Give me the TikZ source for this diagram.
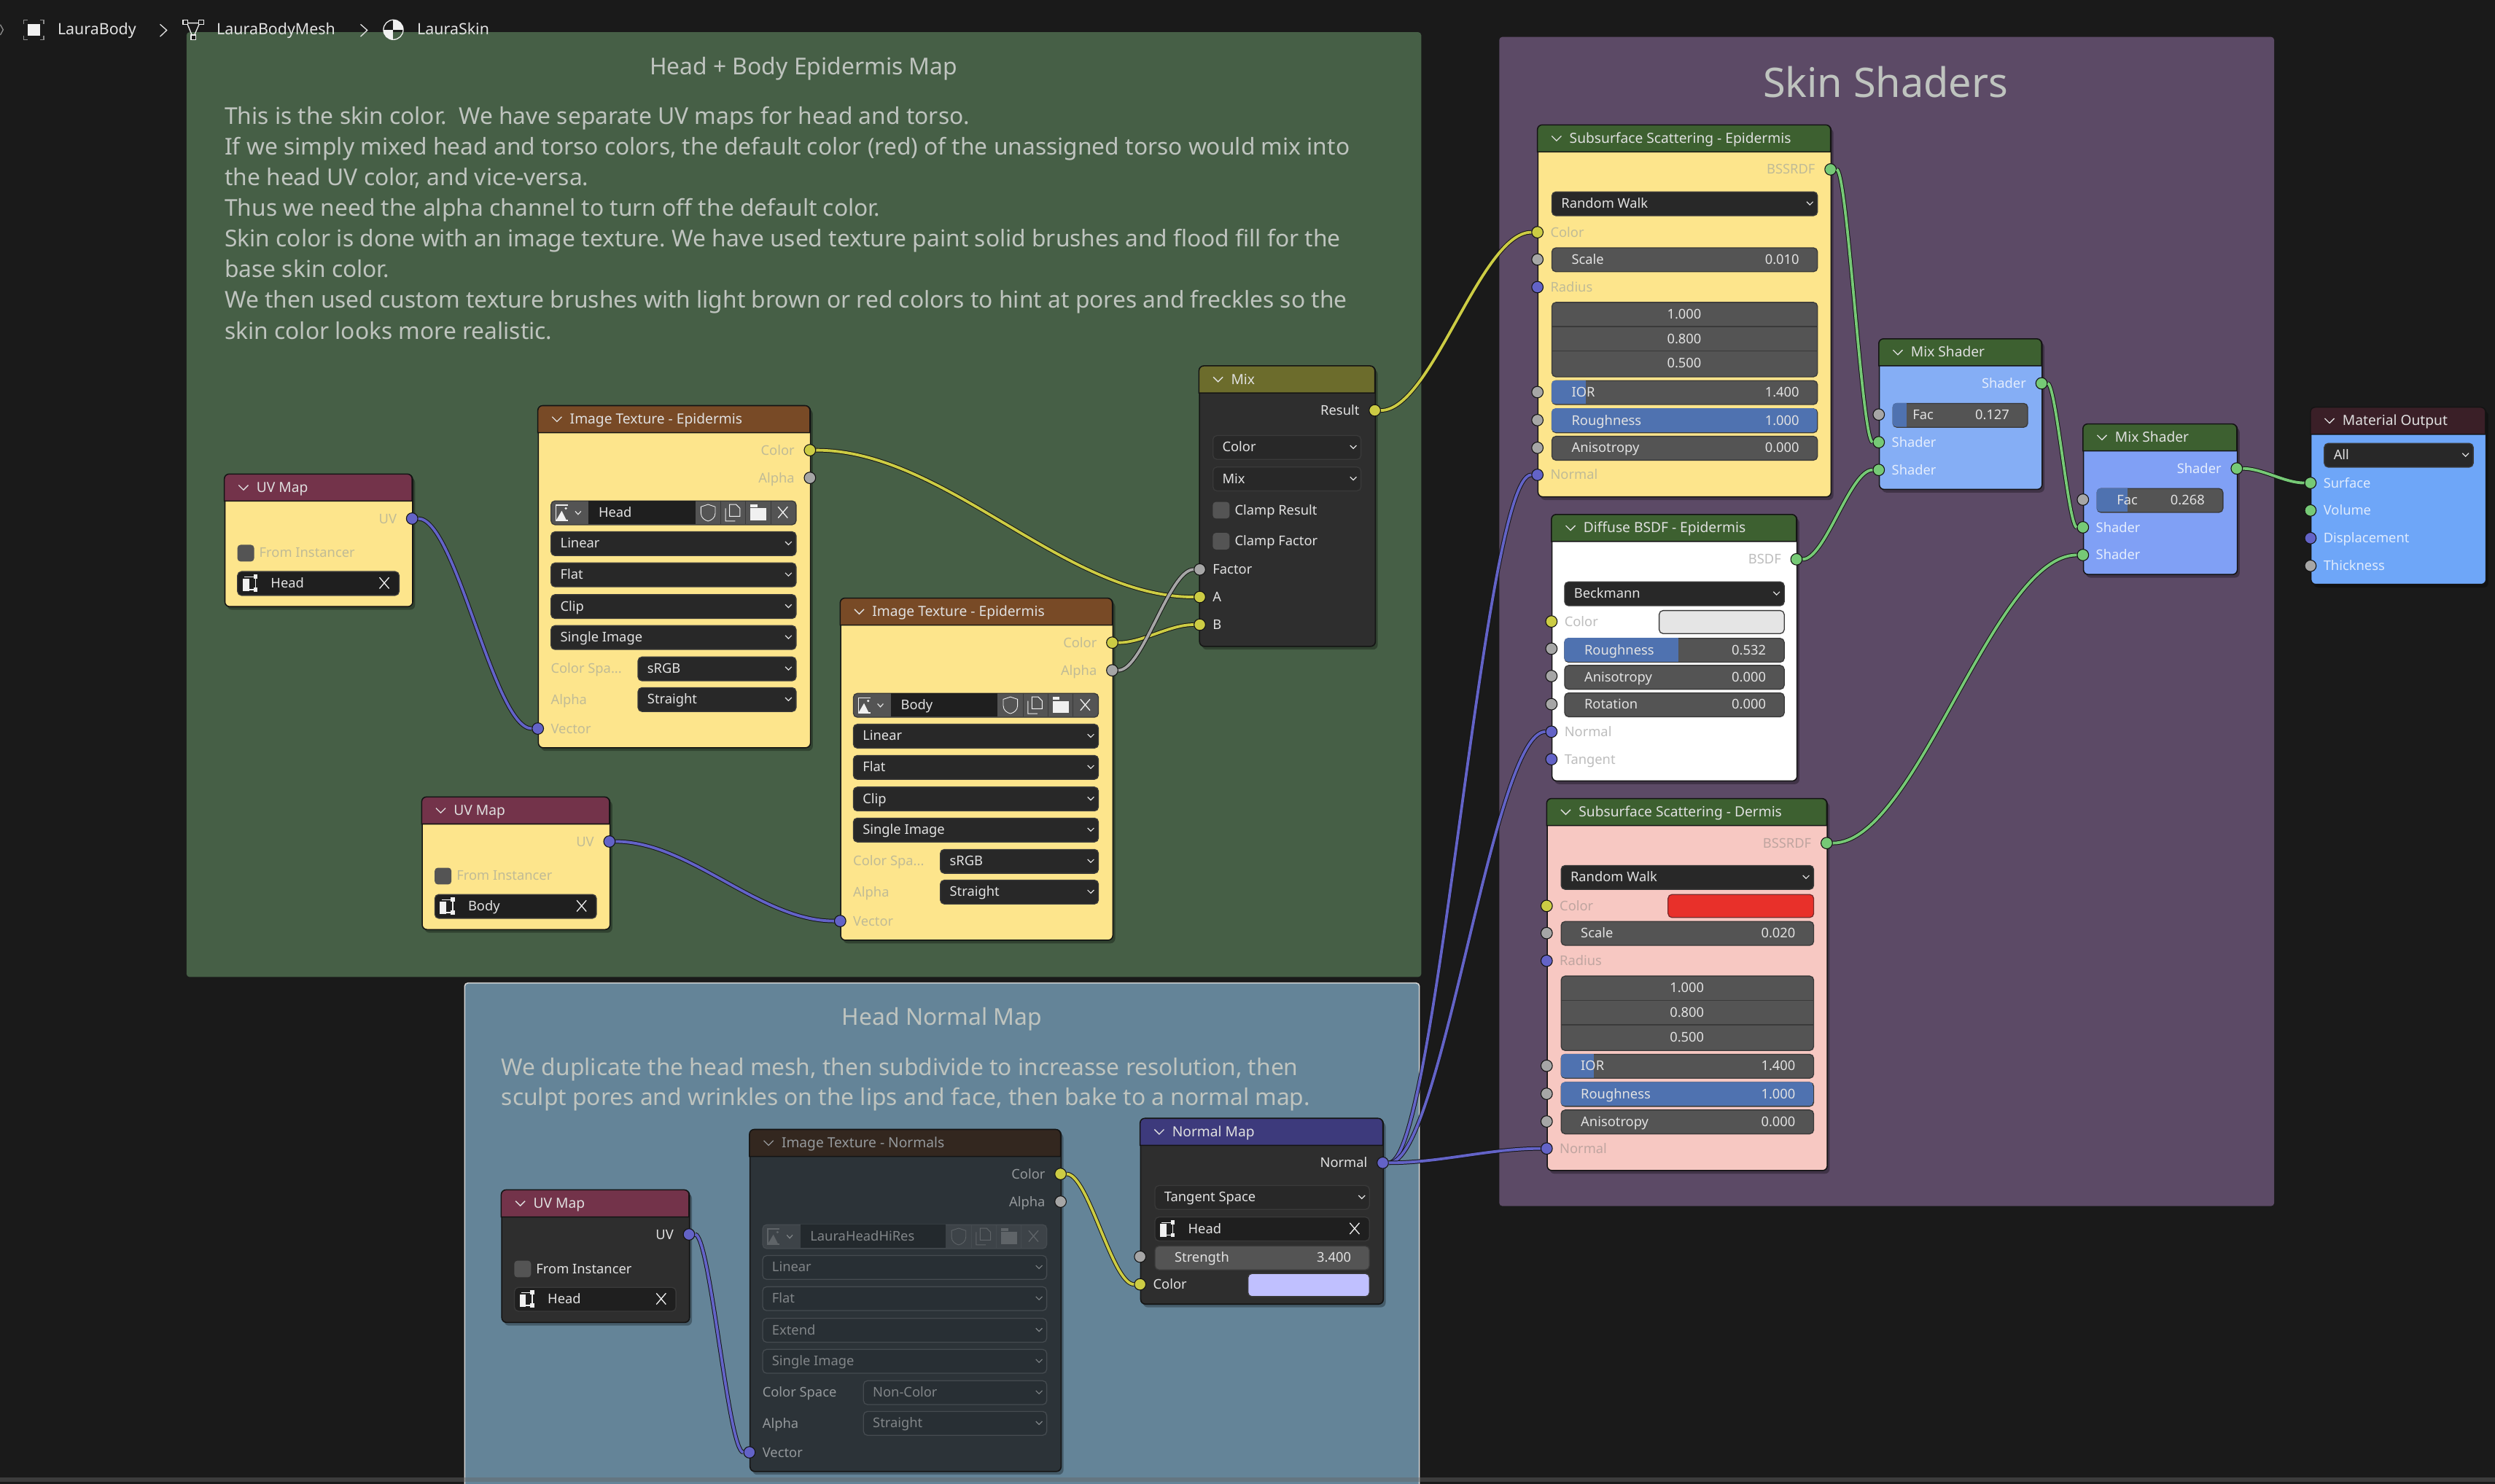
\documentclass[tikz,border=0pt]{standalone}
\usepackage{fontspec}
\setmainfont{Noto Sans}
\usetikzlibrary{positioning,calc,shadows}
\frenchspacing

\definecolor{editorbg}{HTML}{1A1A1A}
\definecolor{framegreen}{HTML}{465F46}
\definecolor{framepurple}{HTML}{5C4A66}
\definecolor{frameblue}{HTML}{648498}
\definecolor{notegrey}{HTML}{BFC4BF}
\definecolor{nodeedge}{HTML}{141414}
\definecolor{hduv}{HTML}{73334A}
\definecolor{hdtex}{HTML}{784A26}
\definecolor{hdtexmute}{HTML}{33271F}
\definecolor{hdshader}{HTML}{3D6030}
\definecolor{hdout}{HTML}{3A1F27}
\definecolor{hdvec}{HTML}{3D3A7C}
\definecolor{hdmix}{HTML}{6C6C2C}
\definecolor{bodyyellow}{HTML}{FDE58C}
\definecolor{bodypink}{HTML}{F7C8C2}
\definecolor{bodydark}{HTML}{2E2E2E}
\definecolor{bodymute}{HTML}{2C3338}
\definecolor{bodymixa}{HTML}{85AEF5}
\definecolor{bodymixb}{HTML}{80A0F5}
\definecolor{bodyout}{HTML}{6EA6F8}
\definecolor{sockyellow}{HTML}{CCCC44}
\definecolor{sockgrey}{HTML}{A6A6A6}
\definecolor{sockblue}{HTML}{6363C7}
\definecolor{sockgreen}{HTML}{76C976}
\definecolor{barblue}{HTML}{4F72B0}
\definecolor{swatchred}{HTML}{E8302A}
\definecolor{swatchrededge}{HTML}{7A2A2A}
\definecolor{swatchlilac}{HTML}{C0C0FF}
\definecolor{lblyellow}{HTML}{C0BB96}
\definecolor{lblwhite}{HTML}{BDBDBD}
\definecolor{lblpink}{HTML}{BFA5A0}
\colorlet{lblc}{white}
\colorlet{titlec}{black!12}
\definecolor{wgdark}{HTML}{282828}
\definecolor{wgfield}{HTML}{545454}
\definecolor{wgedge}{HTML}{3A3A3A}
\definecolor{wgtext}{HTML}{E2E2E2}
\definecolor{wgicon}{HTML}{F0F0F0}

\tikzset{
  panel/.style={anchor=north west,inner sep=0pt,rounded corners=2pt},
  nodebody/.style={anchor=north west,inner sep=0pt,draw=nodeedge,line width=.7pt,rounded corners=3pt,
    drop shadow={shadow xshift=1.5pt,shadow yshift=-2pt,opacity=.3,fill=black}},
  nodetitle/.style={anchor=west,inner sep=0pt,text=titlec,font=\fontsize{8.8}{10}\selectfont,text height=7pt,text depth=1pt},
  chev/.style={draw=titlec,line width=.6pt},
  sock/.style={circle,draw=nodeedge,line width=.5pt,inner sep=0pt,minimum size=7.2pt},
  socklabel/.style={inner sep=0pt,text=lblc,font=\fontsize{8.4}{10}\selectfont,text height=7pt,text depth=1pt},
  wgbox/.style={anchor=north west,inner sep=0pt,draw=wgedge,line width=.6pt,rounded corners=2.5pt,minimum height=15pt},
  wgtxt/.style={inner sep=0pt,text=wgtext,font=\fontsize{8.4}{10}\selectfont,text height=7pt,text depth=1pt},
  wchev/.style={draw=wgtext,line width=.55pt},
  iconline/.style={draw=wgicon,line width=.6pt},
  notetext/.style={anchor=west,inner sep=0pt,text=notegrey,font=\fontsize{14.55}{16}\selectfont,text height=13pt,text depth=3pt},
  notetitle/.style={inner sep=0pt,text=notegrey,font=\fontsize{14.6}{16}\selectfont,text height=13pt,text depth=3pt},
  crumb/.style={anchor=west,inner sep=0pt,text=wgtext,font=\fontsize{9.8}{11}\selectfont,text height=7.5pt,text depth=2pt},
  noodle/.style={draw=nodeedge,line width=.45pt,double=#1,double distance=1.75pt},
}

% node frame: name, x0, x1, y0, y1, header, body, title
\newcommand{\bnode}[8]{%
  \node[nodebody,fill=#7,minimum width=((#3)-(#2))*1pt,minimum height=((#5)-(#4))*1pt] (#1) at (#2,#4) {};
  \filldraw[fill=#6,draw=nodeedge,line width=.7pt] (#2,#4+17) [rounded corners=3pt] -- (#2,#4) -- (#3,#4) [sharp corners] -- (#3,#4+17) -- cycle;
  \draw[chev] (#2+9,#4+7) -- (#2+12,#4+10) -- (#2+15,#4+7);
  \node[nodetitle] (#1title) at (#2+20,#4+8.5) {#8};
}
% sockets
\newcommand{\sockbare}[4]{\node[sock,fill=#4] (#1) at (#2,#3) {};}
\newcommand{\sockout}[5]{\sockbare{#1}{#2}{#3}{#4}\node[socklabel,anchor=east] (#1txt) at (#2-9.5,#3) {#5};}
\newcommand{\sockin}[5]{\sockbare{#1}{#2}{#3}{#4}\node[socklabel,anchor=west] (#1txt) at (#2+8,#3) {#5};}
% widgets
\newcommand{\ddrop}[5]{%
  \node[wgbox,fill=wgdark,minimum width=((#3)-(#2))*1pt] (#1) at (#2,#4) {};
  \node[wgtxt,anchor=west] (#1txt) at (#2+6,#4+7.5) {#5};
  \draw[wchev] (#3-6.5,#4+6.5) -- (#3-4.5,#4+8.5) -- (#3-2.5,#4+6.5);
}
\newcommand{\vfield}[7]{%
  \node[wgbox,fill=wgfield,minimum width=((#3)-(#2))*1pt] (#1) at (#2,#4) {};
  \pgfmathtruncatemacro{\hasbar}{(#5)>(#2)}
  \ifnum\hasbar=1
    \begin{scope}
      \clip[rounded corners=2.5pt] (#2,#4) rectangle (#3,#4+15);
      \fill[barblue] (#2,#4) rectangle (#5,#4+15);
    \end{scope}
  \fi
  \node[wgtxt,anchor=west] (#1txt) at (#2+12.5,#4+7.5) {#6};
  \node[wgtxt,anchor=east] (#1val) at (#3-11,#4+7.5) {#7};
}
\newcommand{\swatch}[6]{\node[wgbox,fill=#6,draw=#5,minimum width=((#3)-(#2))*1pt,minimum height=14.5pt] (#1) at (#2,#4) {};}
\newcommand{\checkrow}[4]{%
  \node[anchor=north west,inner sep=0pt,fill=wgfield,rounded corners=2pt,minimum width=10.5pt,minimum height=10.5pt] (#1) at (#2,#3-5.2) {};
  \node[socklabel,anchor=west] (#1txt) at (#2+13.8,#3) {#4};
}
% small icons
\newcommand{\iconuv}[2]{%
  \fill[wgicon] (#1,#2+2.5) rectangle (#1+4,#2+10.5);
  \draw[iconline] (#1+1,#2+1.5) -- (#1+8,#2+1.5) -- (#1+8,#2+9.5) -- (#1+4,#2+9.5);
  \fill[wgicon] (#1+6.8,#2) rectangle (#1+9.2,#2+2.6);
  \fill[wgicon] (#1+6.8,#2+8.3) rectangle (#1+9.2,#2+10.8);
}
\newcommand{\iconx}[2]{\draw[iconline] (#1,#2) -- (#1+6,#2+7) (#1+6,#2) -- (#1,#2+7);}
\newcommand{\uvbar}[5]{%
  \node[wgbox,fill=black!88,minimum width=((#3)-(#2))*1pt] (#1) at (#2,#4) {};
  \iconuv{#2+3.5}{#4+2.2}
  \node[wgtxt,anchor=west] (#1txt) at (#2+21,#4+7.5) {#5};
  \iconx{#3-12}{#4+4}
}
\newcommand{\imgrow}[5]{%
  \node[wgbox,fill=wgfield,minimum width=((#3)-(#2))*1pt] (#1) at (#2,#4) {};
  \fill[imgdark] (#2+24,#4) rectangle (#3-63,#4+15);
  \draw[wgedge,line width=.4pt] (#3-47,#4) -- (#3-47,#4+15) (#3-31.4,#4) -- (#3-31.4,#4+15) (#3-15.6,#4) -- (#3-15.6,#4+15);
  \draw[iconline] (#2+11,#4+3) -- (#2+3.5,#4+3) -- (#2+3.5,#4+12.5) -- (#2+11,#4+12.5);
  \fill[wgicon] (#2+3.5,#4+12.5) -- (#2+7,#4+6.5) -- (#2+10,#4+12.5) -- cycle;
  \fill[wgicon] (#2+9.6,#4+5) circle (.8);
  \draw[wchev] (#2+15.5,#4+6.8) -- (#2+17.3,#4+8.8) -- (#2+19.1,#4+6.8);
  \node[wgtxt,anchor=west] (#1txt) at (#2+30,#4+7.5) {#5};
  \draw[iconline,line width=.4pt] (#3-59.5,#4+4) -- (#3-55,#4+2.5) -- (#3-50.5,#4+4) -- (#3-50.5,#4+8) .. controls (#3-50.5,#4+11) and (#3-53,#4+12.5) .. (#3-55,#4+13) .. controls (#3-57,#4+12.5) and (#3-59.5,#4+11) .. (#3-59.5,#4+8) -- cycle;
  \draw[iconline,line width=.45pt] (#3-44,#4+5) -- (#3-44,#4+13) -- (#3-38,#4+13) (#3-41.5,#4+2.5) -- (#3-37.5,#4+2.5) -- (#3-35,#4+5) -- (#3-35,#4+10) -- (#3-41.5,#4+10) -- cycle;
  \fill[wgicon] (#3-28.5,#4+5) rectangle (#3-18.5,#4+12.5);
  \fill[wgicon] (#3-28.5,#4+2.5) rectangle (#3-24,#4+4.2);
  \iconx{#3-11}{#4+4}
}
% whole nodes
\newcommand{\uvnode}[5]{% name, x0, y0, body, mesh
  \bnode{#1}{#2}{#2+118}{#3}{#3+83}{hduv}{#4}{UV Map}
  \sockout{#1uv}{#2+118}{#3+28}{sockblue}{UV}
  \checkrow{#1chk}{#2+8}{#3+49.5}{From Instancer}
  \uvbar{#1bar}{#2+8}{#2+109.5}{#3+61}{#5}
}
\newcommand{\texnode}[9]{% name, x0, x1, y0, body, title, image, extension, space label
  \bnode{#1}{#2}{#3}{#4}{#4+214.7}{\texhead}{#5}{#6}
  \sockout{#1color}{#3}{#4+28}{sockyellow}{Color}
  \sockout{#1alpha}{#3}{#4+45.4}{sockgrey}{Alpha}
  \pgfmathsetmacro{\wa}{#2+8}
  \pgfmathsetmacro{\wb}{#3-9}
  \pgfmathsetmacro{\wc}{\wa+.355*(\wb-\wa)}
  \imgrow{#1img}{\wa}{\wb}{#4+59.6}{#7}
  \foreach \rowtxt/\rowdy [count=\k] in {Linear/79,Flat/98.6,#8/118.5,Single Image/138}
    {\ddrop{#1row\k}{\wa}{\wb}{#4+\rowdy}{\rowtxt}}
  \node[socklabel,anchor=west] (#1spacetxt) at (\wa,#4+165.2) {#9};
  \node[socklabel,anchor=west] (#1alphatxt) at (\wa,#4+184.7) {Alpha};
  \ddrop{#1space}{\wc}{\wb}{#4+157.7}{\texspace}
  \ddrop{#1mode}{\wc}{\wb}{#4+177}{Straight}
  \sockin{#1vector}{#2}{#4+203}{sockblue}{Vector}
}
\newcommand{\sssnode}[7]{% name, x0, x1, y0, body, title, scale
  \bnode{#1}{#2}{#3}{#4}{#4+233.5}{hdshader}{#5}{#6}
  \pgfmathsetmacro{\wa}{#2+8.8}
  \pgfmathsetmacro{\wb}{#3-8.5}
  \pgfmathsetmacro{\wc}{\wa+.13*(\wb-\wa)}
  \sockout{#1out}{#3}{#4+28}{sockgreen}{BSSRDF}
  \ddrop{#1method}{\wa}{\wb}{#4+41.8}{Random Walk}
  \sockin{#1color}{#2}{#4+67.5}{sockyellow}{Color}
  \sockbare{#1scale}{#2}{#4+84.6}{sockgrey}
  \vfield{#1scalew}{\wa}{\wb}{#4+77}{\wa}{Scale}{#7}
  \sockin{#1radius}{#2}{#4+102}{sockblue}{Radius}
  \node[wgbox,fill=wgfield,minimum width=(\wb-\wa)*1pt,minimum height=46.8pt] (#1group) at (\wa,#4+111.3) {};
  \draw[wgedge,line width=.7pt] (\wa,#4+126.8) -- (\wb,#4+126.8) (\wa,#4+142.2) -- (\wb,#4+142.2);
  \foreach \val/\dy [count=\k] in {1.000/119,0.800/134.4,0.500/149.8}
    {\node[wgtxt] (#1radius\k) at ({(\wa+\wb)/2},#4+\dy) {\val};}
  \sockbare{#1ior}{#2}{#4+168}{sockgrey}
  \vfield{#1iorw}{\wa}{\wb}{#4+160.5}{\wc}{IOR}{1.400}
  \sockbare{#1rough}{#2}{#4+185.6}{sockgrey}
  \vfield{#1roughw}{\wa}{\wb}{#4+178.2}{\wb}{Roughness}{1.000}
  \sockbare{#1aniso}{#2}{#4+203}{sockgrey}
  \vfield{#1anisow}{\wa}{\wb}{#4+195.5}{\wa}{Anisotropy}{0.000}
  \sockin{#1normal}{#2}{#4+220}{sockblue}{Normal}
}
\newcommand{\mixshader}[6]{% name, x0, x1, y0, body, fac + fill
  \bnode{#1}{#2}{#3}{#4}{#4+94.3}{hdshader}{#5}{Mix Shader}
  \sockout{#1out}{#3}{#4+28}{sockgreen}{Shader}
  \sockbare{#1facin}{#2}{#4+47.6}{sockgrey}
  \vfield{#1fac}{#2+8.6}{#3-9}{#4+40.3}{#6}{Fac}{\facval}
  \sockin{#1a}{#2}{#4+65}{sockgreen}{Shader}
  \sockin{#1b}{#2}{#4+82.4}{sockgreen}{Shader}
}
\newcommand{\noodlelink}[3]{%
  \coordinate (ctla) at ($(#2)!.35!(#3)$);
  \coordinate (ctlb) at ($(#2)!.65!(#3)$);
  \draw[noodle=#1] (#2) .. controls (ctla |- #2) and (ctlb |- #3) .. (#3);
}

\begin{document}
\begin{tikzpicture}[x=1pt,y=-1pt]
  \fill[editorbg] (0,0) rectangle (1568,932.9);
  \useasboundingbox (0,0) rectangle (1568,932.9);
  \colorlet{imgdark}{black!88}

  % frames
  \node[panel,fill=framegreen,minimum width=776pt,minimum height=594pt] (greenframe) at (117,20) {};
  \node[panel,fill=framepurple,minimum width=487pt,minimum height=735pt] (purpleframe) at (942,23) {};
  \fill[frameblue,rounded corners=2pt] (292,618) rectangle (892,950);
  \draw[white!85!black,line width=.7pt,rounded corners=2pt] (292,950) -- (292,618) -- (892,618) -- (892,950);

  \node[notetitle] (greentitle) at (505,42) {Head + Body Epidermis Map};
  \foreach \txt [count=\i] in {{This is the skin color.\ \ We have separate UV maps for head and torso.},
    {If we simply mixed head and torso colors, the default color (red) of the unassigned torso would mix into},
    {the head UV color, and vice-versa.},
    {Thus we need the alpha channel to turn off the default color.},
    {Skin color is done with an image texture. We have used texture paint solid brushes and flood fill for the},
    {base skin color.},
    {We then used custom texture brushes with light brown or red colors to hint at pores and freckles so the},
    {skin color looks more realistic.}}
    \node[notetext] (greenline\i) at (141,{73+19.3*(\i-1)}) {\txt};
  \node[inner sep=0pt,text=notegrey,font=\fontsize{25.6}{30}\selectfont] (purpletitle) at (1185,51.5) {Skin Shaders};
  \node[notetitle] (bluetitle) at (592,639.5) {Head Normal Map};
  \node[notetext] (blueline1) at (315,671) {We duplicate the head mesh, then subdivide to increasse resolution, then};
  \node[notetext] (blueline2) at (315,690) {sculpt pores and wrinkles on the lips and face, then bake to a normal map.};

  % head + body epidermis
  \colorlet{lblc}{lblyellow}
  \uvnode{uvhead}{141}{298}{bodyyellow}{Head}
  \uvnode{uvbody}{265}{501}{bodyyellow}{Body}
  \def\texhead{hdtex}\def\texspace{sRGB}
  \texnode{texhead}{338}{509}{255}{bodyyellow}{Image Texture - Epidermis}{Head}{Clip}{Color Spa...}
  \texnode{texbody}{528}{699}{376}{bodyyellow}{Image Texture - Epidermis}{Body}{Clip}{Color Spa...}

  % mix
  \colorlet{lblc}{wgtext}
  \bnode{mix}{753.5}{864}{230}{406}{hdmix}{bodydark}{Mix}
  \sockout{mixout}{864}{258}{sockyellow}{Result}
  \ddrop{mixtype}{762}{855}{273.5}{Color}
  \ddrop{mixmode}{762}{855}{293.3}{Mix}
  \checkrow{mixclampr}{762}{320.5}{Clamp Result}
  \checkrow{mixclampf}{762}{340}{Clamp Factor}
  \sockin{mixfac}{754}{358}{sockgrey}{Factor}
  \sockin{mixa}{754}{375.3}{sockyellow}{A}
  \sockin{mixb}{754}{392.7}{sockyellow}{B}

  % head normal map
  \uvnode{uvnormal}{315}{748}{bodydark}{Head}
  \begin{scope}
    \colorlet{wgdark}{bodymute!92!black}
    \colorlet{wgfield}{bodymute!92!white}
    \colorlet{wgedge}{bodymute!88!white}
    \colorlet{wgtext}{white!40!bodymute}
    \colorlet{wgicon}{white!24!bodymute}
    \colorlet{imgdark}{bodymute!80!black}
    \colorlet{lblc}{white!50!bodymute}
    \colorlet{titlec}{white!50!bodymute}
    \def\texhead{hdtexmute}\def\texspace{Non-Color}
    \texnode{texnormal}{471}{666.5}{710}{bodymute}{Image Texture - Normals}{LauraHeadHiRes}{Extend}{Color Space}
  \end{scope}
  \bnode{normalmap}{716.5}{869}{703}{819.5}{hdvec}{bodydark}{Normal Map}
  \sockout{nmout}{869}{731}{sockblue}{Normal}
  \ddrop{nmspace}{725.5}{860.3}{745}{Tangent Space}
  \uvbar{nmuv}{725.5}{860.3}{764.8}{Head}
  \sockbare{nmstrength}{716.5}{790}{sockgrey}
  \vfield{nmstrengthw}{725.5}{860.3}{783}{725.5}{Strength}{3.400}
  \sockin{nmcolor}{716.5}{807.4}{sockyellow}{Color}
  \swatch{nmswatch}{784}{860.3}{800.3}{wgedge}{swatchlilac}

  % skin shaders
  \colorlet{lblc}{lblyellow}
  \sssnode{sssepi}{966.2}{1150.4}{78.5}{bodyyellow}{Subsurface Scattering - Epidermis}{0.010}
  \colorlet{lblc}{lblwhite}
  \bnode{diffuse}{975}{1129}{323.4}{490.6}{hdshader}{white}{Diffuse BSDF - Epidermis}
  \sockout{diffout}{1129}{351.6}{sockgreen}{BSDF}
  \ddrop{diffdist}{983}{1121}{365.5}{Beckmann}
  \sockin{diffcolor}{975}{390.7}{sockyellow}{Color}
  \swatch{diffswatch}{1042.4}{1121}{383.5}{wgedge}{black!10}
  \sockbare{diffrough}{975}{407.8}{sockgrey}
  \vfield{diffroughw}{983}{1121}{401}{1055}{Roughness}{0.532}
  \sockbare{diffaniso}{975}{425}{sockgrey}
  \vfield{diffanisow}{983}{1121}{418}{983}{Anisotropy}{0.000}
  \sockbare{diffrot}{975}{442.7}{sockgrey}
  \vfield{diffrotw}{983}{1121}{435.3}{983}{Rotation}{0.000}
  \sockin{diffnormal}{975}{460}{sockblue}{Normal}
  \sockin{difftangent}{975}{477.3}{sockblue}{Tangent}
  \colorlet{lblc}{lblpink}
  \sssnode{sssder}{972}{1148}{502}{bodypink}{Subsurface Scattering - Dermis}{0.020}
  \swatch{dermswatch}{1048}{1139.5}{562}{swatchrededge}{swatchred}

  \colorlet{lblc}{white!78!bodymixa}
  \def\facval{0.127}
  \mixshader{mixsa}{1180.7}{1283}{213}{bodymixa}{1198.4}
  \def\facval{0.268}
  \mixshader{mixsb}{1309}{1405.7}{266.5}{bodymixb}{1337}
  \colorlet{lblc}{white!78!bodyout}
  \bnode{matout}{1452}{1562}{256}{367}{hdout}{bodyout}{Material Output}
  \ddrop{mattarget}{1460.4}{1554}{278.4}{All}
  \sockin{matsurface}{1452}{303.6}{sockgreen}{Surface}
  \sockin{matvolume}{1452}{320.9}{sockgreen}{Volume}
  \sockin{matdisp}{1452}{338.3}{sockblue}{Displacement}
  \sockin{matthick}{1452}{355.7}{sockgrey}{Thickness}

  % links
  \noodlelink{sockblue}{uvheaduv}{texheadvector}
  \noodlelink{sockblue}{uvbodyuv}{texbodyvector}
  \noodlelink{sockblue}{uvnormaluv}{texnormalvector}
  \noodlelink{sockyellow}{texheadcolor}{mixa}
  \noodlelink{sockyellow}{texbodycolor}{mixb}
  \noodlelink{sockgrey}{texbodyalpha}{mixfac}
  \noodlelink{sockyellow}{mixout}{sssepicolor}
  \noodlelink{sockyellow}{texnormalcolor}{nmcolor}
  \noodlelink{sockblue}{nmout}{sssepinormal}
  \noodlelink{sockblue}{nmout}{diffnormal}
  \noodlelink{sockblue}{nmout}{sssdernormal}
  \noodlelink{sockgreen}{sssepiout}{mixsaa}
  \noodlelink{sockgreen}{diffout}{mixsab}
  \noodlelink{sockgreen}{mixsaout}{mixsba}
  \noodlelink{sockgreen}{sssderout}{mixsbb}
  \noodlelink{sockgreen}{mixsbout}{matsurface}

  % breadcrumb
  \draw[black!45,line width=.6pt] (.2,15.5) -- (2,18.7) -- (.2,22);
  \draw[black!45,line width=.5pt] (14.9,15) -- (14.9,12.7) -- (17.2,12.7) (25.2,12.7) -- (27.5,12.7) -- (27.5,15) (27.5,22.5) -- (27.5,24.8) -- (25.2,24.8) (17.2,24.8) -- (14.9,24.8) -- (14.9,22.5);
  \fill[wgicon] (17.6,15) rectangle (25,22.6);
  \node[crumb] (crumbobject) at (36,19) {LauraBody};
  \draw[wgtext,line width=.6pt] (100.6,15.3) -- (104.8,19) -- (100.6,23);
  \draw[wgicon,line width=.6pt] (117.5,14.5) -- (125.5,14.5) -- (122,22.5) -- (120.8,22.5) -- cycle;
  \foreach \mx/\my [count=\k] in {116.5/14,126.5/14,121.5/23.5}
    {\node[draw=wgicon,fill=editorbg,line width=.6pt,inner sep=0pt,minimum size=3pt] (meshdot\k) at (\mx,\my) {};}
  \node[crumb] (crumbmesh) at (136,19) {LauraBodyMesh};
  \draw[wgtext,line width=.6pt] (226.6,15.3) -- (230.8,19) -- (226.6,23);
  \draw[wgicon,line width=.6pt] (247.2,18.7) circle (6.2);
  \begin{scope}
    \clip (247.2,18.7) circle (6.2);
    \fill[wgicon] (247.2,12) rectangle (254,18.7);
    \fill[wgicon] (240,18.7) rectangle (247.2,25.5);
  \end{scope}
  \node[crumb] (crumbmaterial) at (262,19) {LauraSkin};

  % scrollbar band
  \fill[black!60,opacity=.45] (0,928.6) rectangle (1568,931.6);
\end{tikzpicture}
\end{document}
